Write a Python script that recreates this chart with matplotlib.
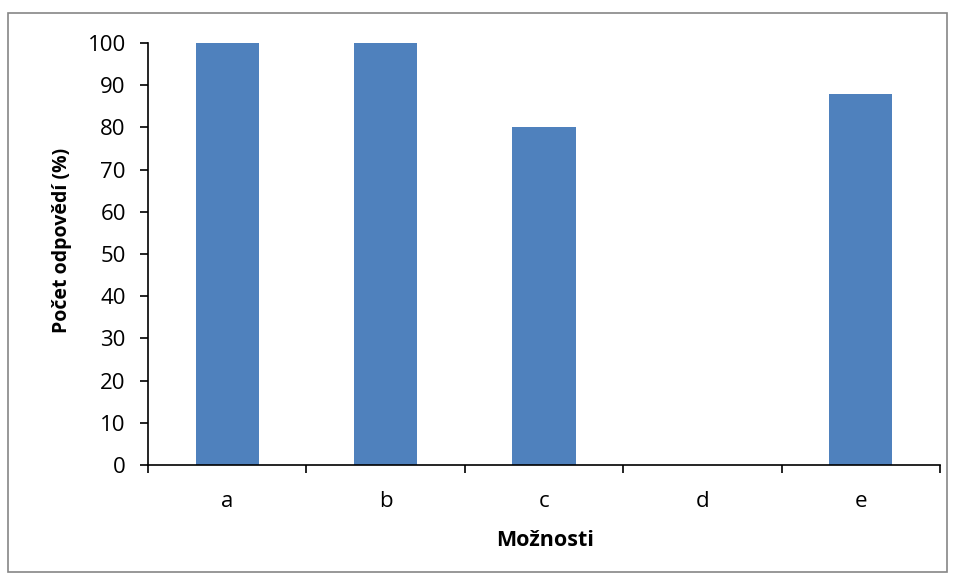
import matplotlib
matplotlib.use("Agg")
import matplotlib.pyplot as plt
from matplotlib.patches import Rectangle
from matplotlib.ticker import FixedLocator, NullFormatter

categories = ["a", "b", "c", "d", "e"]
values = [100, 100, 80, 0, 88]
yticks = [0, 10, 20, 30, 40, 50, 60, 70, 80, 90, 100]

plt.rcParams['font.family'] = ['Open Sans', 'DejaVu Sans']

W, H = 955, 579
fig = plt.figure(figsize=(W / 100, H / 100), dpi=100)
fig.patches.append(Rectangle((8/W, 7/H), 939/W, 559/H, transform=fig.transFigure,
                             fill=False, edgecolor='#868686', linewidth=1.2, zorder=0))
ax = fig.add_axes([148/W, 114/H, 792/W, 422/H])
x = list(range(len(categories)))
ax.bar(x, values, width=0.4, color='#4F81BD', zorder=2)
ax.set_xlim(-0.5, len(categories) - 0.5)
ax.set_ylim(0, 100)
ax.set_yticks(yticks)
ax.tick_params(axis='y', length=6, width=1.2, labelsize=16, pad=10, direction='out')
ax.set_xticks(x)
ax.set_xticklabels(categories)
ax.tick_params(axis='x', which='major', length=0, labelsize=16, pad=19)
ax.xaxis.set_minor_locator(FixedLocator([i - 0.5 for i in range(len(categories) + 1)]))
ax.xaxis.set_minor_formatter(NullFormatter())
ax.tick_params(axis='x', which='minor', length=6, width=1.2, direction='out')
for s in ['top', 'right']:
    ax.spines[s].set_visible(False)
ax.spines['left'].set_linewidth(1.2)
ax.spines['bottom'].set_linewidth(1.2)
ax.set_xlabel("Možnosti", fontsize=15.5, fontweight='bold')
ax.set_ylabel("Počet odpovědí (%)", fontsize=14, fontweight='bold')
# label positions (pixels converted to axes coords)
ax.xaxis.set_label_coords((545 - 148) / 792, (465 - 540) / 422)
ax.xaxis.label.set_va('center')
ax.yaxis.set_label_coords((62 - 148) / 792, (465 - 240) / 422)
ax.yaxis.label.set_va('center')
fig.savefig("out.png", dpi=100)
